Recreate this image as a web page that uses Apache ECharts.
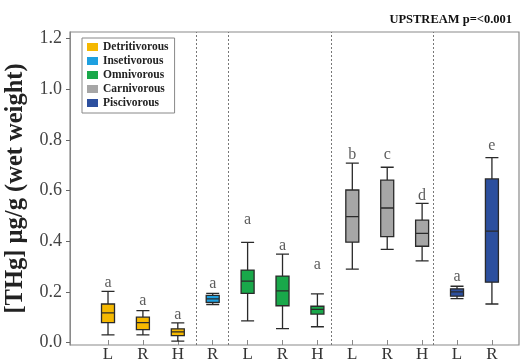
<!DOCTYPE html>
<html>
<head>
<meta charset="utf-8">
<script src="https://cdn.jsdelivr.net/npm/echarts@6/dist/echarts.min.js"></script>
<style>
  html, body { margin: 0; padding: 0; background: #fff; }
  #chart { width: 527px; height: 361px; }
</style>
</head>
<body>
<div id="chart"></div>
<script>
// feeding groups and their colours
const groups = ['Detritivorous', 'Insetivorous', 'Omnivorous', 'Carnivorous', 'Piscivorous'];
const groupColors = ['#F5B800', '#1EA0E0', '#19A84A', '#A6A6A6', '#2C4F9E'];

// one entry per box, left to right
const xLabels = ['L', 'R', 'H', 'R', 'L', 'R', 'H', 'L', 'R', 'H', 'L', 'R'];
const groupOf = [0, 0, 0, 1, 2, 2, 2, 3, 3, 3, 4, 4];
const whiskerMin = [0.030, 0.030, 0.005, 0.150, 0.085, 0.055, 0.062, 0.290, 0.368, 0.322, 0.173, 0.152];
const q1 = [0.078, 0.051, 0.027, 0.158, 0.194, 0.145, 0.112, 0.396, 0.418, 0.380, 0.183, 0.238];
const median = [0.117, 0.078, 0.042, 0.172, 0.242, 0.204, 0.131, 0.497, 0.531, 0.431, 0.200, 0.440];
const q3 = [0.152, 0.100, 0.054, 0.186, 0.286, 0.262, 0.143, 0.602, 0.641, 0.483, 0.212, 0.646];
const whiskerMax = [0.202, 0.126, 0.077, 0.194, 0.395, 0.349, 0.192, 0.708, 0.692, 0.549, 0.222, 0.730];

// significance letters and the height they sit at
const letters = ['a', 'a', 'a', 'a', 'a', 'a', 'a', 'b', 'c', 'd', 'a', 'e'];
const letterY = [0.236, 0.163, 0.111, 0.230, 0.486, 0.382, 0.305, 0.741, 0.740, 0.580, 0.261, 0.778];

// dotted separators between feeding groups (in box-index units)
const separators = [2.52, 3.44, 6.39, 9.31];
const yTicks = [0, 0.2, 0.4, 0.6, 0.8, 1.0, 1.2];
const xTicks = xLabels.map((d, i) => i);

const serif = "'Liberation Serif', 'Times New Roman', serif";
const X_MIN = -1.089;
const X_MAX = 11.776;

document.addEventListener('DOMContentLoaded', function() {
    const chart = echarts.init(document.getElementById('chart'));

    // one hidden x axis per group so the boxplots don't get dodged sideways
    const xAxes = groups.map((g, i) => ({
        type: 'value',
        min: X_MIN,
        max: X_MAX,
        show: i === 0,
        splitLine: { show: false },
        axisLine: { show: false, onZero: false },
        axisTick: {
            show: true,
            inside: true,
            length: 5,
            customValues: xTicks,
            lineStyle: { color: '#888' }
        },
        axisLabel: {
            customValues: xTicks,
            formatter: v => xLabels[Math.round(v)],
            fontFamily: serif,
            fontSize: 17,
            color: '#333',
            margin: 1
        }
    }));

    const boxSeries = groups.map((g, gi) => ({
        name: g,
        type: 'boxplot',
        xAxisIndex: gi,
        boxWidth: [13, 13],
        itemStyle: {
            color: groupColors[gi],
            borderColor: '#2a2a2a',
            borderWidth: 1.3
        },
        data: xLabels
            .map((lab, i) => [i, whiskerMin[i], q1[i], median[i], q3[i], whiskerMax[i]])
            .filter((d, i) => groupOf[i] === gi)
    }));

    const option = {
        animation: false,
        title: {
            text: 'UPSTREAM p=<0.001',
            right: 10,
            top: 8,
            textStyle: { fontFamily: serif, fontSize: 12.5, fontWeight: 'bold', color: '#111' }
        },
        legend: {
            data: groups.map((g, i) => ({
                name: g,
                itemStyle: { color: groupColors[i], borderWidth: 0 }
            })),
            orient: 'vertical',
            left: 82,
            top: 38,
            icon: 'rect',
            itemWidth: 11,
            itemHeight: 8,
            itemGap: 2,
            padding: [3, 6, 4, 5],
            backgroundColor: '#fff',
            borderColor: '#888',
            borderWidth: 1,
            textStyle: { fontFamily: serif, fontSize: 11.5, fontWeight: 'bold', color: '#222', lineHeight: 12 }
        },
        grid: {
            left: 70,
            right: 8,
            top: 32,
            bottom: 16,
            outerBoundsMode: 'none',
            show: true,
            borderColor: '#8a8a8a',
            borderWidth: 1.2
        },
        xAxis: xAxes,
        yAxis: {
            type: 'value',
            min: -0.01,
            max: 1.226,
            name: '[THg] µg/g (wet weight)',
            nameLocation: 'middle',
            nameRotate: 90,
            nameGap: 30,
            nameTextStyle: { fontFamily: serif, fontSize: 24.5, fontWeight: 'bold', color: '#222' },
            splitLine: { show: false },
            axisLine: { show: true, onZero: false, lineStyle: { color: '#8a8a8a' } },
            axisTick: { show: true, length: 4, customValues: yTicks, lineStyle: { color: '#666' } },
            axisLabel: {
                customValues: yTicks,
                formatter: v => v.toFixed(1),
                fontFamily: serif,
                fontSize: 18,
                color: '#444',
                margin: 8
            }
        },
        series: boxSeries.concat([{
            name: 'letters',
            type: 'scatter',
            xAxisIndex: 0,
            symbolSize: 1,
            itemStyle: { color: 'rgba(0,0,0,0)' },
            label: {
                show: true,
                position: 'inside',
                formatter: p => letters[p.dataIndex],
                fontFamily: serif,
                fontSize: 16,
                color: '#333'
            },
            data: letterY.map((y, i) => [i, y]),
            markLine: {
                silent: true,
                symbol: 'none',
                label: { show: false },
                lineStyle: { color: '#777', type: [2, 2], width: 1 },
                data: separators.map(x => ({ xAxis: x }))
            }
        }])
    };

    chart.setOption(option);
});
</script>
</body>
</html>
